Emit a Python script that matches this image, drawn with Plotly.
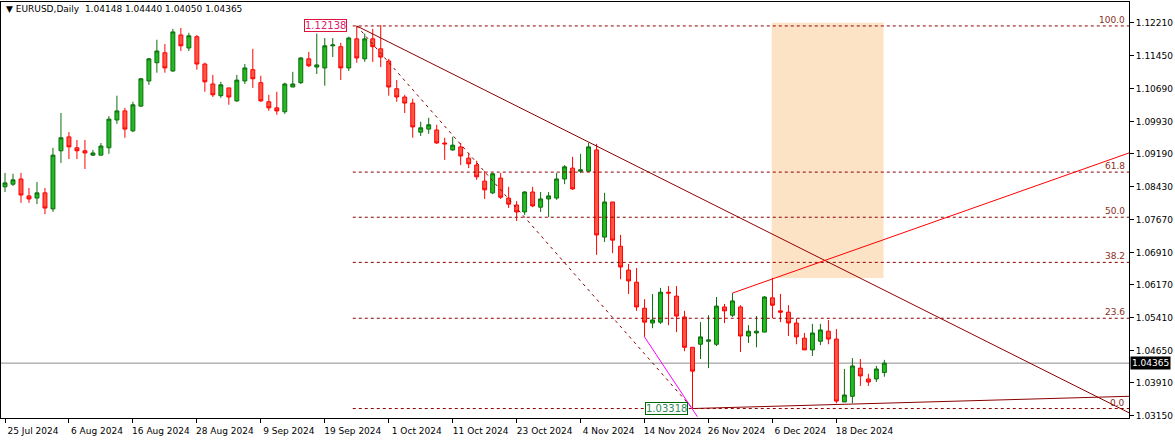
import plotly.graph_objects as go

# daily bars, index 0 = 25 Jul 2024
opens = [1.0843, 1.0849, 1.0861, 1.0822, 1.0817, 1.0829, 1.0792, 1.0926, 1.0958, 1.0933,
         1.0926, 1.0916, 1.0916, 1.0933, 1.0997, 1.1018, 1.0972, 1.1029, 1.1087, 1.1129,
         1.1152, 1.1110, 1.1193, 1.1163, 1.1189, 1.1126, 1.1080, 1.1053, 1.1071, 1.1041,
         1.1087, 1.1113, 1.1083, 1.1039, 1.1025, 1.1016, 1.1073, 1.1083, 1.1138, 1.1119,
         1.1117, 1.1168, 1.1166, 1.1117, 1.1184, 1.1138, 1.1184, 1.1161, 1.1133, 1.1069,
         1.1050, 1.1036, 1.0969, 1.0976, 1.0974, 1.0944, 1.0928, 1.0935, 1.0909, 1.0893,
         1.0856, 1.0829, 1.0863, 1.0817, 1.0801, 1.0785, 1.0831, 1.0796, 1.0815, 1.0817,
         1.0861, 1.0886, 1.0879, 1.0879, 1.0928, 1.0727, 1.0808, 1.0706, 1.0651, 1.0623,
         1.0563, 1.0529, 1.0531, 1.0600, 1.0591, 1.0543, 1.0473, 1.0480, 1.0487, 1.0480,
         1.0566, 1.0547, 1.0566, 1.0499, 1.0506, 1.0508, 1.0587, 1.0557, 1.0554, 1.0529,
         1.0494, 1.0467, 1.0487, 1.0510, 1.0492, 1.0347, 1.0360, 1.0425, 1.0400, 1.0400,
         1.04148]
highs = [1.0875, 1.0873, 1.0875, 1.0840, 1.0854, 1.0840, 1.0933, 1.1013, 1.0969, 1.0951,
         1.0951, 1.0928, 1.0944, 1.1006, 1.1053, 1.1025, 1.1039, 1.1094, 1.1140, 1.1182,
         1.1172, 1.1207, 1.1209, 1.1198, 1.1193, 1.1129, 1.1101, 1.1085, 1.1071, 1.1101,
         1.1126, 1.1161, 1.1099, 1.1055, 1.1062, 1.1083, 1.1108, 1.1142, 1.1154, 1.1196,
         1.1186, 1.1186, 1.1175, 1.1189, 1.12138, 1.1196, 1.1207, 1.1216, 1.1138, 1.1089,
         1.1055, 1.1046, 1.0993, 1.1002, 1.0986, 1.0956, 1.0958, 1.0944, 1.0921, 1.0903,
         1.0879, 1.0875, 1.0875, 1.0843, 1.0810, 1.0833, 1.0843, 1.0831, 1.0831, 1.0875,
         1.0893, 1.0912, 1.0919, 1.0944, 1.0942, 1.0829, 1.0808, 1.0732, 1.0665, 1.0656,
         1.0584, 1.0596, 1.0610, 1.0614, 1.0614, 1.0557, 1.0473, 1.0531, 1.0547, 1.0589,
         1.0573, 1.0598, 1.0570, 1.0524, 1.0545, 1.0591, 1.0633, 1.0596, 1.0570, 1.0540,
         1.0506, 1.0527, 1.0527, 1.0536, 1.0515, 1.0423, 1.0448, 1.0446, 1.0412, 1.0430,
         1.04440]
lows = [1.0831, 1.0845, 1.0806, 1.0806, 1.0803, 1.0780, 1.0785, 1.0898, 1.0907, 1.0907,
        1.0884, 1.0914, 1.0916, 1.0919, 1.0988, 1.0956, 1.0969, 1.1027, 1.1078, 1.1106,
        1.1106, 1.1108, 1.1156, 1.1156, 1.1113, 1.1062, 1.1050, 1.1048, 1.1032, 1.1039,
        1.1080, 1.1071, 1.1039, 1.1018, 1.1009, 1.1011, 1.1073, 1.1080, 1.1119, 1.1103,
        1.1076, 1.1142, 1.1089, 1.1110, 1.1129, 1.1131, 1.1131, 1.1119, 1.1053, 1.1039,
        1.1013, 1.0956, 1.0960, 1.0965, 1.0942, 1.0905, 1.0926, 1.0893, 1.0886, 1.0859,
        1.0815, 1.0826, 1.0815, 1.0794, 1.0764, 1.0778, 1.0796, 1.0785, 1.0773, 1.0813,
        1.0849, 1.0836, 1.0875, 1.0877, 1.0686, 1.0716, 1.0690, 1.0630, 1.0596, 1.0557,
        1.0497, 1.0517, 1.0527, 1.0524, 1.0508, 1.0464, 1.03318, 1.0446, 1.0425, 1.0476,
        1.0529, 1.0543, 1.0462, 1.0483, 1.0473, 1.0508, 1.0540, 1.0531, 1.0499, 1.0480,
        1.0467, 1.0453, 1.0478, 1.0480, 1.0344, 1.0347, 1.0344, 1.0384, 1.0384, 1.0393,
        1.04050]
closes = [1.0852, 1.0859, 1.0824, 1.0815, 1.0829, 1.0794, 1.0916, 1.0956, 1.0935, 1.0926,
          1.0921, 1.0921, 1.0937, 1.0999, 1.1018, 1.0976, 1.1032, 1.1092, 1.1138, 1.1156,
          1.1117, 1.1200, 1.1168, 1.1191, 1.1126, 1.1085, 1.1055, 1.1078, 1.1050, 1.1089,
          1.1117, 1.1092, 1.1041, 1.1025, 1.1018, 1.1080, 1.1080, 1.1140, 1.1122, 1.1124,
          1.1168, 1.1170, 1.1117, 1.1186, 1.1140, 1.1184, 1.1166, 1.1142, 1.1073, 1.1050,
          1.1036, 1.0981, 1.0979, 1.0986, 1.0944, 1.0942, 1.0939, 1.0914, 1.0896, 1.0866,
          1.0836, 1.0873, 1.0819, 1.0803, 1.0785, 1.0831, 1.0799, 1.0815, 1.0822, 1.0861,
          1.0889, 1.0838, 1.0882, 1.0935, 1.0732, 1.0808, 1.0720, 1.0658, 1.0626, 1.0566,
          1.0531, 1.0536, 1.0600, 1.0598, 1.0545, 1.0473, 1.0418, 1.0497, 1.0490, 1.0568,
          1.0557, 1.0580, 1.0499, 1.0510, 1.0510, 1.0589, 1.0570, 1.0554, 1.0529, 1.0497,
          1.0467, 1.0506, 1.0513, 1.0492, 1.0349, 1.0363, 1.0430, 1.0407, 1.0393, 1.0423,
          1.04365]

date_ticks = [0, 8, 16, 24, 32, 40, 48, 56, 64, 72, 80, 88, 96, 104]
date_labels = ['25 Jul 2024', '6 Aug 2024', '16 Aug 2024', '28 Aug 2024', '9 Sep 2024',
               '19 Sep 2024', '1 Oct 2024', '11 Oct 2024', '23 Oct 2024', '4 Nov 2024',
               '14 Nov 2024', '26 Nov 2024', '6 Dec 2024', '18 Dec 2024']
price_ticks = [1.12210, 1.11450, 1.10690, 1.09930, 1.09190, 1.08430, 1.07670,
               1.06910, 1.06170, 1.05410, 1.04650, 1.03910, 1.03150]

# fibonacci retracement
fib_high = 1.12138
fib_low = 1.03318
fib_levels = [0.0, 23.6, 38.2, 50.0, 61.8, 100.0]
fib_start = 43.5
high_bar = 44
low_bar = 86

# drawn lines: (x0, y0, x1, y1) in bar index / price
trend_down = [44, 1.12138, 140.6, 1.0322]
trend_up = [91, 1.0598, 140.6, 1.0921]
trend_low = [86, 1.03318, 140.6, 1.0360]
magenta_line = [80, 1.0497, 86.6, 1.0313]
zone = [95.9, 1.0633, 109.9, 1.1221]

last_price = 1.04365
x_right = 140.6
y_range = [1.0310, 1.1269]

fig = go.Figure()

fig.add_trace(go.Candlestick(
    x=list(range(len(opens))), open=opens, high=highs, low=lows, close=closes,
    increasing=dict(line=dict(color='#0b6e0b', width=1), fillcolor='#22bb22'),
    decreasing=dict(line=dict(color='#ff0000', width=1), fillcolor='#ff5544'),
    whiskerwidth=0, showlegend=False, hoverinfo='skip'
))

shapes = []
# orange zone
shapes.append(dict(type='rect', x0=zone[0], x1=zone[2], y0=zone[1], y1=zone[3],
                   fillcolor='#fde3c5', line=dict(width=0), layer='below'))
# fib levels
annotations = []
for lv in fib_levels:
    price = fib_low + (fib_high - fib_low) * lv / 100
    shapes.append(dict(type='line', x0=fib_start, x1=x_right, y0=price, y1=price,
                       line=dict(color='#8b0000', width=1, dash='3px,3px')))
    annotations.append(dict(x=x_right - 0.2, y=price, text='%.1f' % lv, showarrow=False,
                            xanchor='right', yanchor='bottom', yshift=-1,
                            font=dict(size=9, color='#8b2e22')))
# fib diagonal
shapes.append(dict(type='line', x0=high_bar, y0=fib_high, x1=low_bar, y1=fib_low,
                   line=dict(color='#8b0000', width=1, dash='3px,4px')))
for ln, col in [(trend_down, '#8b0000'), (trend_up, '#ff0000'),
                (trend_low, '#8b0000'), (magenta_line, '#ff00ff')]:
    shapes.append(dict(type='line', x0=ln[0], y0=ln[1], x1=ln[2], y1=ln[3],
                       line=dict(color=col, width=1)))
# current price line
shapes.append(dict(type='line', x0=-0.5, x1=x_right, y0=last_price, y1=last_price,
                   line=dict(color='#8c8c8c', width=1), layer='below'))

annotations += [
    dict(x=high_bar - 1.2, y=fib_high, text='1.12138', showarrow=False, xanchor='right',
         font=dict(size=10, color='#e0206a'), bordercolor='#dc143c', borderwidth=1,
         borderpad=0, bgcolor='white'),
    dict(x=low_bar - 0.6, y=fib_low, text='1.03318', showarrow=False, xanchor='right',
         font=dict(size=10, color='#2e8b57'), bordercolor='#006400', borderwidth=1,
         borderpad=0, bgcolor='white'),
    dict(x=1.0, xref='paper', y=last_price, text='1.04365', showarrow=False,
         xanchor='left', xshift=1, font=dict(size=9, color='white'), bgcolor='black',
         borderpad=1),
    dict(x=0.003, xref='paper', y=1.0, yref='paper', yanchor='top', showarrow=False,
         xanchor='left', text='\u25bc EURUSD,Daily  1.04148 1.04440 1.04050 1.04365',
         font=dict(size=9, color='black')),
]

fig.update_layout(
    width=1175, height=440,
    margin=dict(l=1, r=46, t=2, b=22, autoexpand=False),
    plot_bgcolor='white', paper_bgcolor='white',
    font=dict(family='DejaVu Sans, Liberation Sans', size=9, color='black'),
    shapes=shapes, annotations=annotations,
    xaxis=dict(range=[-0.5, x_right], rangeslider=dict(visible=False), automargin=False,
               tickvals=date_ticks, ticktext=date_labels, ticks='outside', ticklen=4,
               tickcolor='black', showgrid=False, showline=True, linecolor='black',
               mirror=True, zeroline=False, ticklabelshift=28, ticklabelstandoff=0,
               tickfont=dict(size=9)),
    yaxis=dict(range=y_range, side='right', tickvals=price_ticks, automargin=False,
               ticktext=['%.5f' % v for v in price_ticks], ticks='outside', ticklen=4,
               tickcolor='black', showgrid=False, showline=True, linecolor='black',
               mirror=True, zeroline=False, tickfont=dict(size=9)),
)

fig.write_html("out.html", config={'displayModeBar': False},
               post_script="document.body.style.margin='0';")
